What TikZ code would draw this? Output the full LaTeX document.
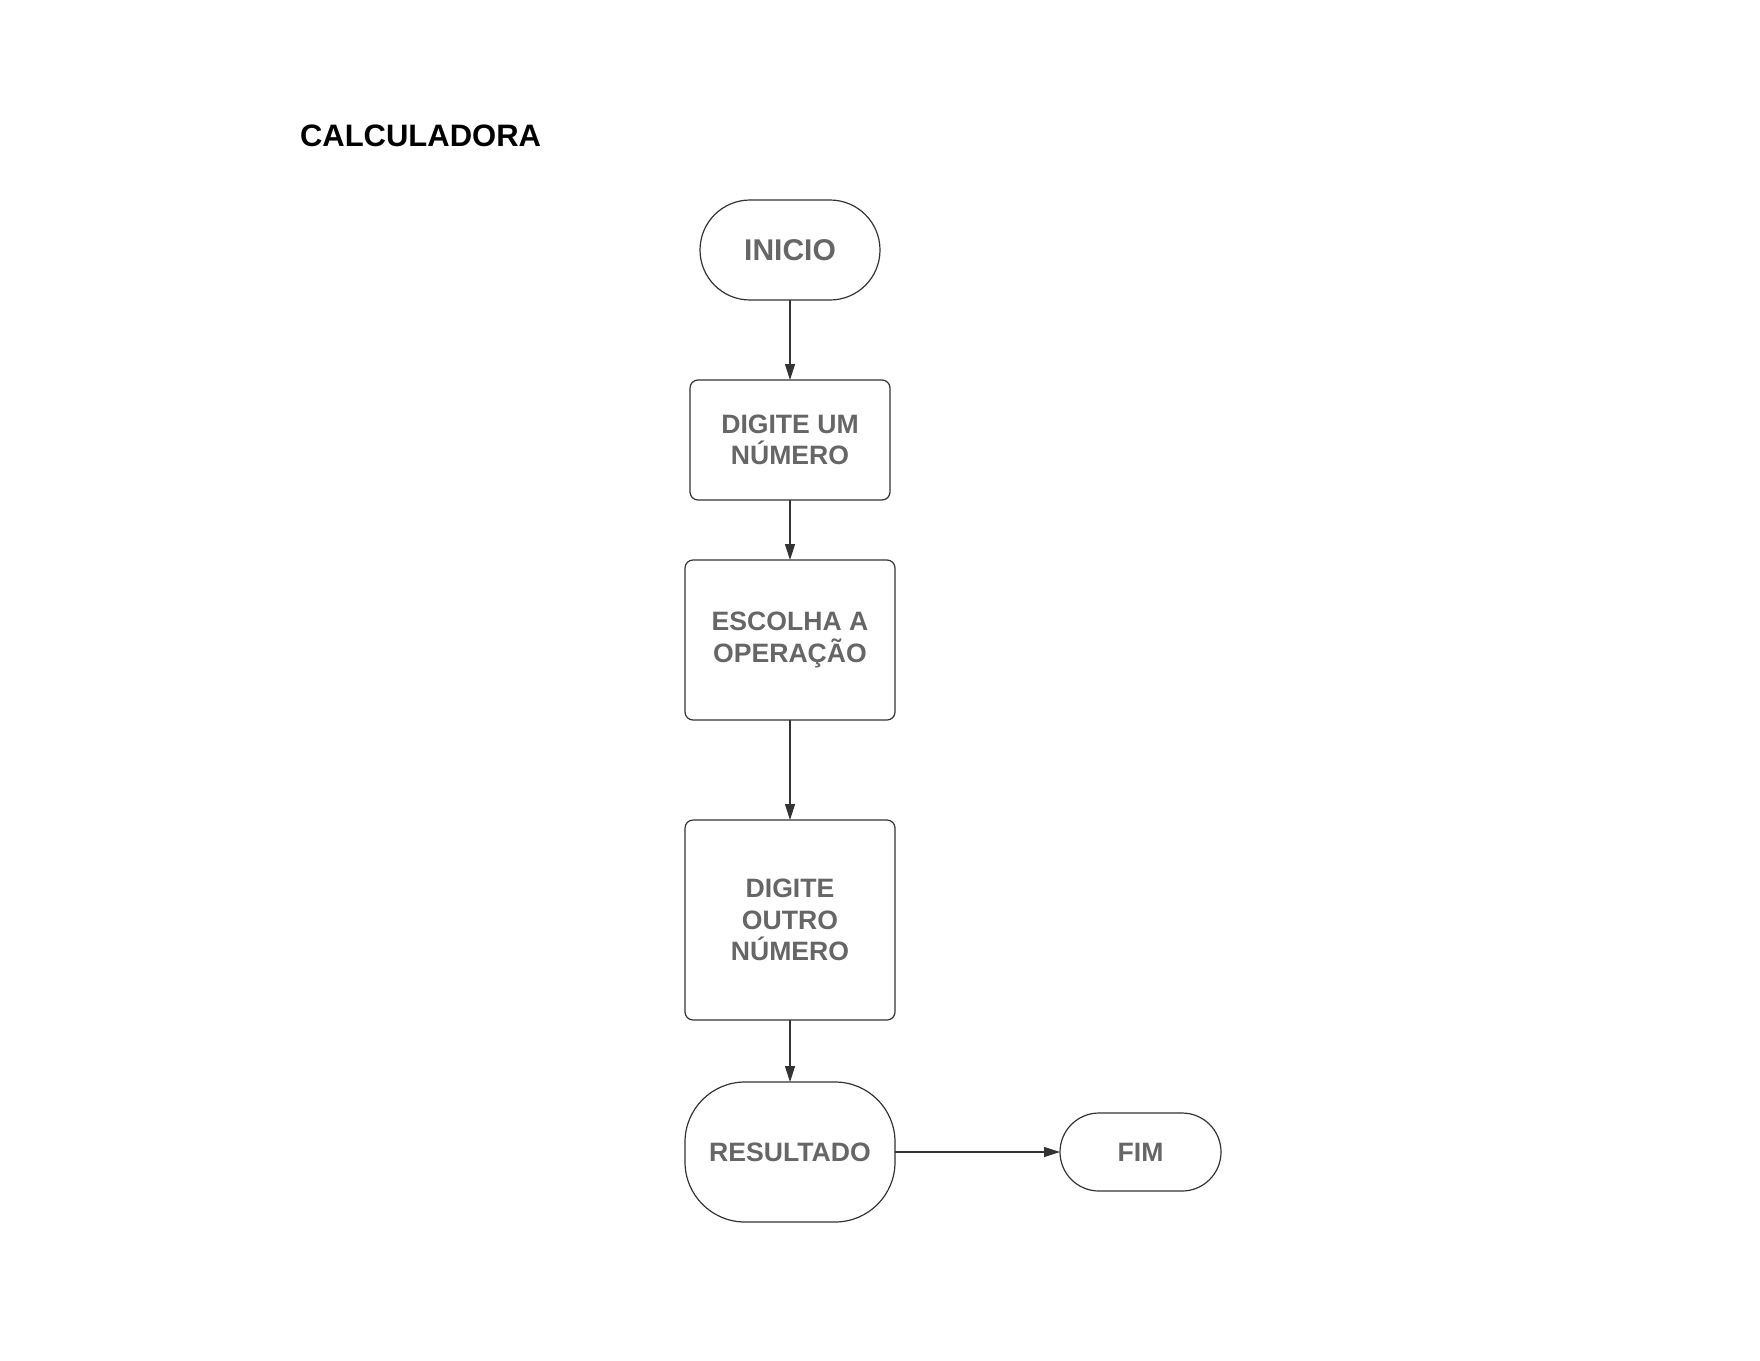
\documentclass[tikz,border=0pt]{standalone}
\usepackage{fontspec}
\setmainfont{Liberation Sans}
\usepackage{xcolor}
\usetikzlibrary{positioning,arrows.meta}

\definecolor{txtgray}{HTML}{666666}
\definecolor{linegray}{HTML}{333333}

\begin{document}
\begin{tikzpicture}[x=0.5pt,y=-0.5pt,
    every node/.style={inner sep=0pt, outer sep=0pt},
    flowbox/.style={draw=linegray, line width=0.6pt, rectangle, rounded corners=4pt, align=center, text=txtgray, font=\fontsize{13.3}{15.8}\selectfont\bfseries},
    terminal/.style={draw=linegray, line width=0.6pt, rectangle, align=center, text=txtgray, font=\fontsize{13.3}{15.8}\selectfont\bfseries},
    flowarrow/.style={-{Triangle[length=8pt,width=5pt]}, draw=linegray, line width=0.6pt}]
    \useasboundingbox (0,0) rectangle (1760,1360);

    \node (title) [anchor=west, font=\fontsize{15.5}{18}\selectfont\bfseries] at (300,136) {CALCULADORA};

    \node (inicio) [terminal, minimum width=90pt, minimum height=50pt, rounded corners=25pt, font=\fontsize{15}{18}\selectfont\bfseries] at (790,250) {INICIO};
    \node (numero1) [flowbox, minimum width=100pt, minimum height=60pt, below=40pt of inicio] {DIGITE UM\\NÚMERO};
    \node (operacao) [flowbox, minimum width=105pt, minimum height=80pt, below=30pt of numero1] {ESCOLHA A\\OPERAÇÃO};
    \node (numero2) [flowbox, minimum width=105pt, minimum height=100pt, below=50pt of operacao] {DIGITE\\OUTRO\\NÚMERO};
    \node (resultado) [terminal, minimum width=105pt, minimum height=70pt, rounded corners=30pt, below=31pt of numero2] {RESULTADO};
    \node (fim) [terminal, minimum width=80.5pt, minimum height=39pt, rounded corners=19.5pt, right=82.5pt of resultado] {FIM};

    \draw[flowarrow] (inicio) -- (numero1);
    \draw[flowarrow] (numero1) -- (operacao);
    \draw[flowarrow] (operacao) -- (numero2);
    \draw[flowarrow] (numero2) -- (resultado);
    \draw[flowarrow] (resultado) -- (fim);
\end{tikzpicture}
\end{document}
